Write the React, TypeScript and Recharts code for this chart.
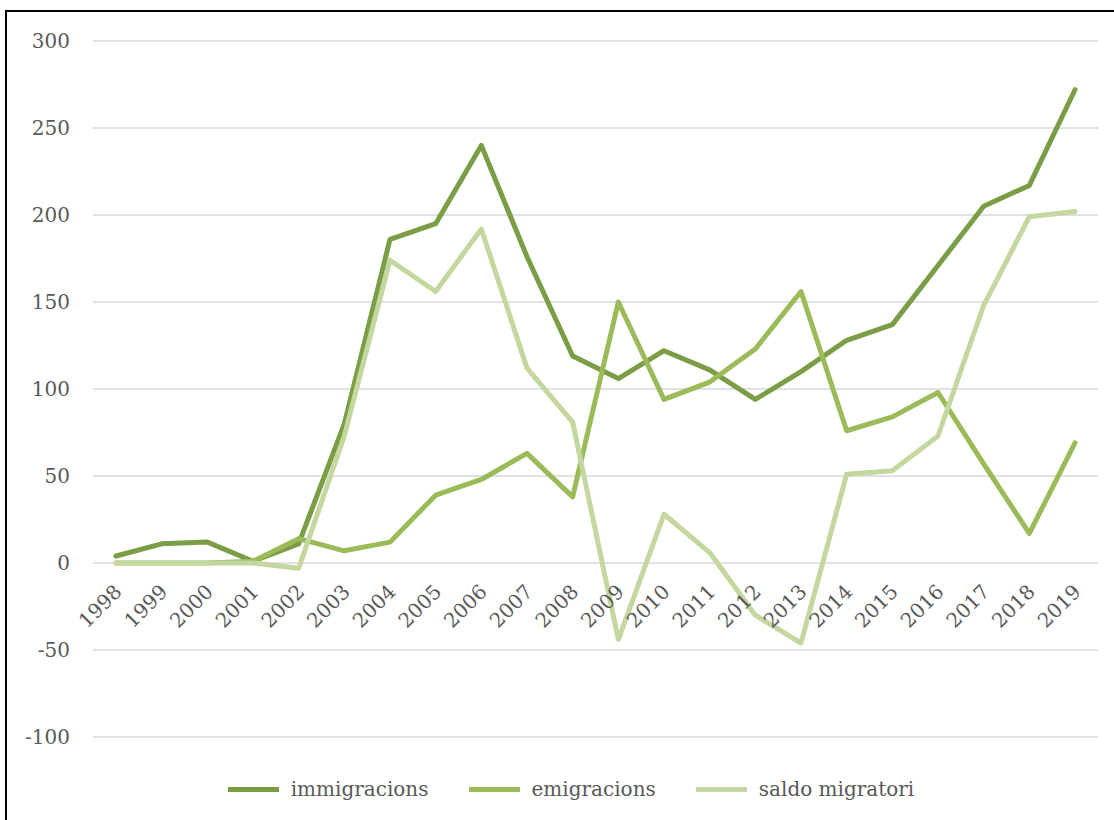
import { LineChart, Line, XAxis, YAxis, CartesianGrid, Legend } from "recharts";

const years = [
  "1998", "1999", "2000", "2001", "2002", "2003", "2004", "2005", "2006", "2007", "2008",
  "2009", "2010", "2011", "2012", "2013", "2014", "2015", "2016", "2017", "2018", "2019",
];
const immigracions = [4, 11, 12, 1, 11, 80, 186, 195, 240, 176, 119, 106, 122, 111, 94, 110, 128, 137, 171, 205, 217, 272];
const emigracions = [0, 0, 0, 1, 14, 7, 12, 39, 48, 63, 38, 150, 94, 104, 123, 156, 76, 84, 98, 57, 17, 69];
const saldoMigratori = [0, 0, 0, 0, -3, 73, 174, 156, 192, 112, 81, -44, 28, 6, -30, -46, 51, 53, 73, 148, 199, 202];
const yTicks = [-100, -50, 0, 50, 100, 150, 200, 250, 300];

const Y_MIN = -100;
const Y_MAX = 300;

const W = 1114;
const H = 820;
const MARGIN = { top: 41, right: 16, bottom: 16, left: 0 };
const LEGEND_H = 30;
const XAXIS_H = 37;
const PLOT_H = H - MARGIN.top - MARGIN.bottom - LEGEND_H - XAXIS_H;
const ZERO_FROM_BOTTOM = (PLOT_H * (0 - Y_MIN)) / (Y_MAX - Y_MIN);

const FONT = "'DejaVu Serif', serif";
const TEXT = "#595959";

const series = [
  { key: "immigracions", color: "#7A9D45" },
  { key: "emigracions", color: "#9BBB59" },
  { key: "saldo migratori", color: "#C4D79F" },
];

const data = years.map((year, i) => ({
  year,
  immigracions: immigracions[i],
  emigracions: emigracions[i],
  "saldo migratori": saldoMigratori[i],
}));

// year labels sit on the zero line, not under the plot
function YearTick(props: any) {
  const { x, y, payload } = props;
  const ax = x + 7;
  const ay = y - ZERO_FROM_BOTTOM + 30;
  return (
    <text
      x={ax}
      y={ay}
      transform={`rotate(-45, ${ax}, ${ay})`}
      textAnchor="end"
      fill={TEXT}
      fontSize={20}
      fontFamily={FONT}
    >
      {payload.value}
    </text>
  );
}

function LegendContent(props: any) {
  const items = props.payload ?? [];
  // keep the series order, not the alphabetical one
  const ordered = series
    .map((s) => items.find((it: any) => it.value === s.key))
    .filter(Boolean);
  return (
    <div
      style={{
        height: LEGEND_H,
        display: "flex",
        justifyContent: "center",
        alignItems: "center",
        paddingLeft: 44,
        gap: 40,
        fontFamily: FONT,
        fontSize: 20,
        color: TEXT,
      }}
    >
      {ordered.map((it: any) => (
        <div key={it.value} style={{ display: "flex", alignItems: "center" }}>
          <span style={{ display: "inline-block", width: 51, height: 5, background: it.color, marginRight: 12 }} />
          <span>{it.value}</span>
        </div>
      ))}
    </div>
  );
}

export default function App() {
  return (
    <div style={{ position: "absolute", left: 0, top: 0, width: W, height: H, overflow: "hidden", background: "#fff" }}>
      <div
        style={{
          position: "absolute",
          left: 5,
          top: 10,
          width: 1200,
          height: 900,
          border: "2px solid #000",
        }}
      />
      <div style={{ position: "absolute", left: 0, top: 0 }}>
        <LineChart width={W} height={H} data={data} margin={MARGIN}>
          <CartesianGrid vertical={false} stroke="#D9D9D9" strokeWidth={1.5} />
          <XAxis
            dataKey="year"
            height={XAXIS_H}
            axisLine={false}
            tickLine={false}
            tickSize={0}
            tickMargin={0}
            interval={0}
            padding={{ left: 23, right: 23 }}
            tick={<YearTick />}
          />
          <YAxis
            width={93}
            domain={[Y_MIN, Y_MAX]}
            ticks={yTicks}
            axisLine={false}
            tickLine={false}
            tickSize={0}
            tickMargin={23}
            tick={{ fill: TEXT, fontSize: 20, fontFamily: FONT }}
          />
          <Legend verticalAlign="bottom" content={<LegendContent />} />
          {series.map((s) => (
            <Line
              key={s.key}
              type="linear"
              dataKey={s.key}
              stroke={s.color}
              strokeWidth={5}
              strokeLinecap="round"
              strokeLinejoin="round"
              dot={false}
              activeDot={false}
              isAnimationActive={false}
            />
          ))}
        </LineChart>
      </div>
    </div>
  );
}
